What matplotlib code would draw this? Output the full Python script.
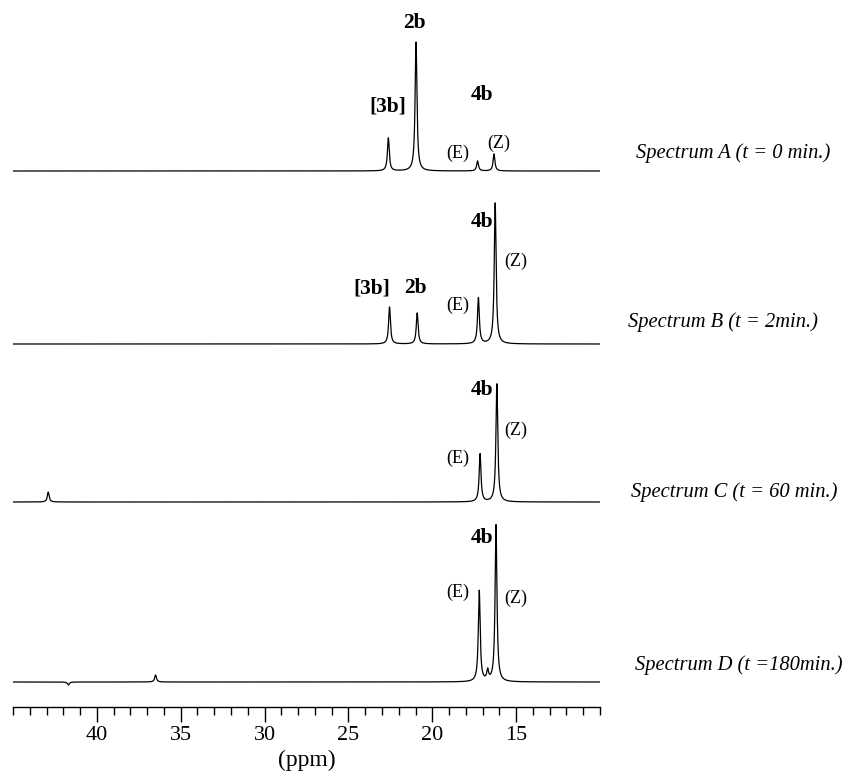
import numpy as np
import matplotlib
matplotlib.use('Agg')
import matplotlib.pyplot as plt
from matplotlib.ticker import MultipleLocator

plt.rcParams['font.family'] = ['Liberation Serif', 'DejaVu Serif']

# peak lists: position (ppm), height
specA_ppm = [22.62, 20.97, 17.30, 16.32]
specA_h = [33, 129, 10, 17]
specB_ppm = [22.55, 20.90, 17.25, 16.25]
specB_h = [37, 31, 46, 141]
specC_ppm = [42.9, 17.15, 16.15]
specC_h = [10, 48, 118]
specD_ppm = [41.7, 36.5, 17.2, 16.7, 16.2]
specD_h = [-3, 7, 91, 10, 157]

spectra = [
    ('Spectrum A (t = 0 min.)', specA_ppm, specA_h),
    ('Spectrum B (t = 2min.)', specB_ppm, specB_h),
    ('Spectrum C (t = 60 min.)', specC_ppm, specC_h),
    ('Spectrum D (t =180min.)', specD_ppm, specD_h),
]
offsets = [536, 363, 205, 25]
label_y = [153, 322, 492, 665]   # figure pixel rows of the side labels
label_right = [830, 818, 838, 843]

W, H = 845, 777
fig = plt.figure(figsize=(W / 100, H / 100), dpi=100)
ax = fig.add_axes([13 / W, (H - 707) / H, (600 - 13) / W, 707 / H])

ppm = np.linspace(45, 10, 6000)
hw = 0.065
for (name, pos, hts), off, lx, ly in zip(spectra, offsets, label_right, label_y):
    y = np.full_like(ppm, off, dtype=float)
    for p, h in zip(pos, hts):
        y += h / (1 + ((ppm - p) / hw) ** 2)
    ax.plot(ppm, y, color='black', lw=0.9)
    fig.text(lx / W, 1 - ly / H, name, ha='right', va='center',
             style='italic', fontsize=14.8)

ax.set_xlim(45, 10)
ax.set_ylim(0, 707)
for s in ['left', 'right', 'top']:
    ax.spines[s].set_visible(False)
ax.spines['bottom'].set_linewidth(1.0)
ax.set_yticks([])
ax.xaxis.set_major_locator(MultipleLocator(5))
ax.xaxis.set_minor_locator(MultipleLocator(1))
ax.tick_params(axis='x', which='major', direction='out', length=11, width=1.0,
               labelsize=16, pad=3)
ax.tick_params(axis='x', which='minor', direction='out', length=6, width=1.0)
ax.set_xticks([40, 35, 30, 25, 20, 15])
ax.set_xlabel('(ppm)', fontsize=17, labelpad=3)


def px(xp, yp):
    return 45 - (xp - 13) / 16.77, 707 - yp


bold_labels = [('2b', 414, 23), ('[3b]', 388, 107), ('4b', 482, 95),
               ('[3b]', 372, 288), ('2b', 415, 288), ('4b', 482, 222),
               ('4b', 482, 390), ('4b', 482, 538)]
for t, xp, yp in bold_labels:
    ax.text(*px(xp, yp), t, ha='center', va='center', fontweight='bold',
            fontsize=15.5)

ez_labels = [('(E)', 458, 153), ('(Z)', 499, 143),
             ('(E)', 458, 305), ('(Z)', 516, 261),
             ('(E)', 458, 458), ('(Z)', 516, 430),
             ('(E)', 458, 592), ('(Z)', 516, 598)]
for t, xp, yp in ez_labels:
    ax.text(*px(xp, yp), t, ha='center', va='center', fontsize=13)

fig.savefig('out.png', dpi=100)
